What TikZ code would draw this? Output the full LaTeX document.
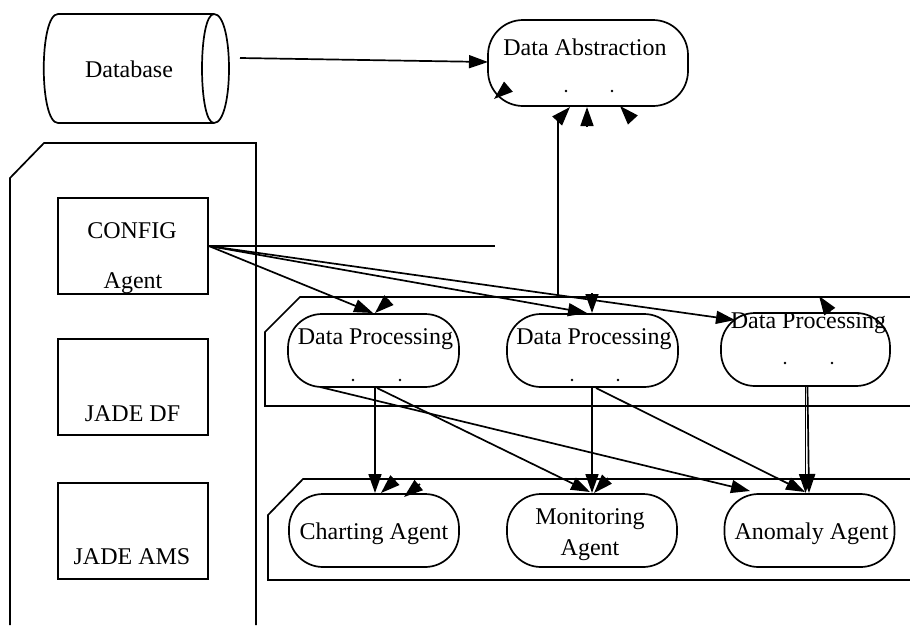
\documentclass[tikz,border=0pt]{standalone}
\usepackage{fontspec}
\setmainfont{Liberation Serif}
\usetikzlibrary{arrows.meta}
\begin{document}
\begin{tikzpicture}[x=1pt,y=-1pt,
  ln/.style={line width=1.7pt},
  arr/.style={ln,-{Triangle[length=19pt,width=13pt]}},
  box/.style={draw,ln,rectangle,inner sep=0pt},
  pill/.style={draw,ln,rectangle,rounded corners=35pt,inner sep=0pt},
  lbl/.style={font=\fontsize{24}{28}\selectfont,anchor=base,inner sep=0pt},
  dot/.style={fill=black}
]
\useasboundingbox (0,0) rectangle (910,625);

% containers
\draw[ln] (10,625) -- (10,178) -- (44,143) -- (256,143) -- (256,625);
\draw[ln] (910,297) -- (300,297) -- (265,332) -- (265,406) -- (910,406);
\draw[ln] (910,479) -- (303,479) -- (268,515) -- (268,580) -- (910,580);

% database cylinder
\draw[ln] (58,14) -- (214,14) .. controls (234,14) and (234,123) .. (214,123) -- (58,123) .. controls (39,123) and (39,14) .. (58,14) -- cycle;
\draw[ln] (214,14) .. controls (198,14) and (198,123) .. (214,123);
\node[lbl] (dbt) at (129,77) {Database};

% data abstraction
\node[pill,minimum width=200pt,minimum height=86pt] (da) at (588,63) {};
\node[lbl] (dat) at (585,55) {Data Abstraction};
\fill[dot] (566,91) circle (1.4);
\fill[dot] (612,91) circle (1.4);

% JADE boxes
\node[box,minimum width=150pt,minimum height=96pt] (cfg) at (133,246) {};
\node[lbl] (cfg1) at (132,238) {CONFIG};
\node[lbl] (cfg2) at (133,288) {Agent};
\node[box,minimum width=150pt,minimum height=96pt] (df) at (133,387) {};
\node[lbl] (dft) at (132.5,421) {JADE DF};
\node[box,minimum width=150pt,minimum height=96pt] (ams) at (133,531) {};
\node[lbl] (amst) at (132,564) {JADE AMS};

% data processing agents
\node[pill,minimum width=171pt,minimum height=73pt,rounded corners=34pt] (dp1) at (373.5,350.5) {};
\node[lbl] (dp1t) at (375.5,344) {Data Processing};
\fill[dot] (353,380) circle (1.4);
\fill[dot] (400,380) circle (1.4);
\node[pill,minimum width=171pt,minimum height=73pt,rounded corners=34pt] (dp2) at (592.5,350.5) {};
\node[lbl] (dp2t) at (594,344) {Data Processing};
\fill[dot] (572,380) circle (1.4);
\fill[dot] (618,380) circle (1.4);
\node[pill,minimum width=169pt,minimum height=73pt,rounded corners=34pt] (dp3) at (805.5,349.5) {};
\node[lbl] (dp3t) at (808.5,328) {Data Processing};
\fill[dot] (785,363) circle (1.4);
\fill[dot] (832,363) circle (1.4);

% lower agents
\node[pill,minimum width=170pt,minimum height=73pt,rounded corners=34pt] (ch) at (374,530.5) {};
\node[lbl] (cht) at (374,539) {Charting Agent};
\node[pill,minimum width=170pt,minimum height=73pt,rounded corners=34pt] (mo) at (592,530.5) {};
\node[lbl] (mot1) at (590,524) {Monitoring};
\node[lbl] (mot2) at (590,555) {Agent};
\node[pill,minimum width=170pt,minimum height=73pt,rounded corners=34pt] (an) at (809.5,530.5) {};
\node[lbl] (ant) at (811.5,539) {Anomaly Agent};

% coordinates
\coordinate (db-out) at (240,58);
\coordinate (da-in) at (488,62);
\coordinate (cfg-line) at (495,246);
\coordinate (va-bot) at (558,297);
\coordinate (va-top) at (558,120);
\coordinate (va-tip) at (570,107);
\coordinate (dp1-in) at (373,313);
\coordinate (dp2-in) at (587,313);
\coordinate (dp3-in) at (735,320);
\coordinate (dp1-bl) at (320,387);
\coordinate (dp1-b) at (375,388);
\coordinate (dp1-b2) at (377,388);
\coordinate (dp2-b) at (592,388);
\coordinate (dp2-b2) at (596,388);
\coordinate (ch-in) at (375,493);
\coordinate (mo-in) at (592,493);
\coordinate (mo-in2) at (590,492);
\coordinate (an-in1) at (750,491);
\coordinate (an-in2) at (805,492);

% connectors
\draw[arr] (db-out) -- (da-in);
\draw[ln] (cfg.east) -- (cfg-line);
\draw[arr] (cfg.east) -- (dp1-in);
\draw[arr] (cfg.east) -- (dp2-in);
\draw[arr] (cfg.east) -- (dp3-in);
\draw[ln] (va-bot) -- (va-top);
\draw[arr] (va-top) -- (va-tip);
\draw[arr] (dp1-b) -- (ch-in);
\draw[arr] (dp1-b2) -- (mo-in2);
\draw[arr] (dp1-bl) -- (an-in1);
\draw[arr] (dp2-b) -- (mo-in);
\draw[arr] (dp2-b2) -- (an-in2);
\draw[arr] (805.5,387) -- (805.5,493);
\draw[arr] (807.5,387) -- (809,493);

% loose arrowheads
\draw[arr] (508,87) -- (494,99);
\draw[arr] (587,127) -- (587,107);
\draw[arr] (632,119) -- (620,106);
\draw[arr] (389,300) -- (375,313);
\draw[arr] (592,293) -- (592,313);
\draw[arr] (830,312) -- (819,296);
\draw[arr] (395,480) -- (381,493);
\draw[arr] (420,484) -- (404,497);
\draw[arr] (608,478) -- (594,493);
\end{tikzpicture}
\end{document}
